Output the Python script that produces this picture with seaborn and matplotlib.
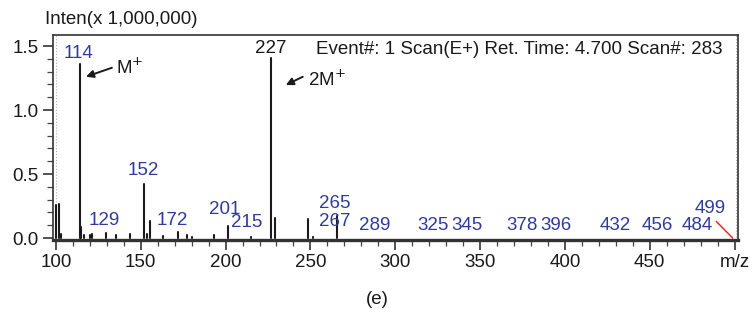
import numpy as np
import pandas as pd
import matplotlib
matplotlib.use("Agg")
import matplotlib.pyplot as plt
import seaborn as sns

# ---- data ----
peak_mz = [99.8, 101.6, 103.0, 114.0, 115.0, 116.7, 120.0, 121.0, 129.3, 135.7,
           143.6, 152.0, 153.4, 155.4, 163.0, 172.0, 177.0, 180.0, 193.0, 201.5,
           215.0, 227.0, 229.0, 248.5, 251.5, 265.4]
peak_int = [0.26, 0.265, 0.03, 1.36, 0.085, 0.02, 0.02, 0.03, 0.04, 0.025,
            0.035, 0.42, 0.03, 0.13, 0.015, 0.05, 0.02, 0.01, 0.02, 0.095,
            0.005, 1.41, 0.16, 0.15, 0.01, 0.17]

label_text = ['114', '227', '152', '129', '172', '201', '215', '265', '267', '289',
              '325', '345', '378', '396', '432', '456', '484', '499']
label_x = [113.5, 226.6, 151.5, 128.7, 168.5, 199.6, 212.6, 264.4, 264.4, 288.0,
           322.3, 342.0, 375.0, 395.0, 429.5, 454.6, 478.0, 485.7]
label_y = [1.445, 1.48, 0.53, 0.14, 0.14, 0.22, 0.12, 0.27, 0.13, 0.10,
           0.10, 0.10, 0.10, 0.10, 0.10, 0.10, 0.10, 0.23]
label_black = ['227']

x_ticks = [100, 150, 200, 250, 300, 350, 400, 450, 500]
x_ticklabels = ['100', '150', '200', '250', '300', '350', '400', '450', 'm/z']
y_ticks = [0.0, 0.5, 1.0, 1.5]

header = "Event#: 1 Scan(E+) Ret. Time: 4.700 Scan#: 283"

# ---- styling ----
sns.set_theme(style="ticks")
plt.rcParams['font.family'] = ['Liberation Sans', 'DejaVu Sans']
BLUE = '#2f3c9e'
DARK = '#1a1a1a'
FS = 13.5

fig = plt.figure(figsize=(7.55, 3.24), dpi=100)
ax = fig.add_axes([0.070, 0.259, 0.907, 0.633])

# stick spectrum via seaborn lineplot with units
rows = []
for i, (m, h) in enumerate(zip(peak_mz, peak_int)):
    rows.append({'mz': m, 'inten': 0.0, 'pk': i})
    rows.append({'mz': m, 'inten': h, 'pk': i})
df = pd.DataFrame(rows)
sns.lineplot(data=df, x='mz', y='inten', units='pk', estimator=None,
             color=DARK, linewidth=1.5, ax=ax, legend=False)

ax.set_xlim(98.2, 501.8)
ax.set_ylim(-0.016, 1.586)

# dotted edge lines
ax.axvline(100, color='#b0b0b0', lw=0.8, ls=':', zorder=0)
ax.axvline(500.8, color='#b0b0b0', lw=0.8, ls=':', zorder=0)

# peak labels
for t, x, y in zip(label_text, label_x, label_y):
    ax.text(x, y, t, ha='center', va='center', fontsize=FS,
            color=(DARK if t in label_black else BLUE))

# red leader line for 499
ax.plot([489.2, 498.9], [0.13, 0.0], color='#e0302a', lw=1.1)

# arrows
ax.annotate('', xy=(117.7, 1.26), xytext=(133.0, 1.33),
            arrowprops=dict(arrowstyle='-|>', color=DARK, lw=1.4,
                            mutation_scale=11, shrinkA=0, shrinkB=0))
ax.text(135.3, 1.33, r'M$^{+}$', ha='left', va='center', fontsize=FS, color=DARK)
ax.annotate('', xy=(235.5, 1.195), xytext=(245.5, 1.26),
            arrowprops=dict(arrowstyle='-|>', color=DARK, lw=1.4,
                            mutation_scale=11, shrinkA=0, shrinkB=0))
ax.text(248.5, 1.235, r'2M$^{+}$', ha='left', va='center', fontsize=FS, color=DARK)

ax.text(0.978, 0.927, header, transform=ax.transAxes, ha='right', va='center',
        fontsize=FS, color=DARK)

# axes/ticks
ax.set_xticks(x_ticks)
ax.set_xticklabels(x_ticklabels)
ax.set_xticks(np.arange(100, 501, 10), minor=True)
ax.set_yticks(y_ticks)
ax.set_yticklabels([f'{v:.1f}' for v in y_ticks])
ax.set_yticks(np.arange(0, 1.55, 0.1), minor=True)
ax.tick_params(axis='both', which='major', direction='out', length=7, width=1.2,
               color='#333333', labelsize=FS, labelcolor=DARK, pad=3)
ax.tick_params(axis='both', which='minor', direction='out', length=4, width=0.9,
               color='#444444')
ax.set_xlabel('')
ax.set_ylabel('')
for s in ['left', 'right', 'top']:
    ax.spines[s].set_visible(True)
    ax.spines[s].set_linewidth(1.2)
    ax.spines[s].set_color('#333333')
ax.spines['bottom'].set_linewidth(2.4)
ax.spines['bottom'].set_color('#333333')

fig.text(45 / 755, 1 - 20 / 324, 'Inten(x 1,000,000)', ha='left', va='center',
         fontsize=FS, color=DARK)
fig.text(0.5, 1 - 300 / 324, '(e)', ha='center', va='center', fontsize=FS, color=DARK)

fig.savefig('out.png', dpi=100)
